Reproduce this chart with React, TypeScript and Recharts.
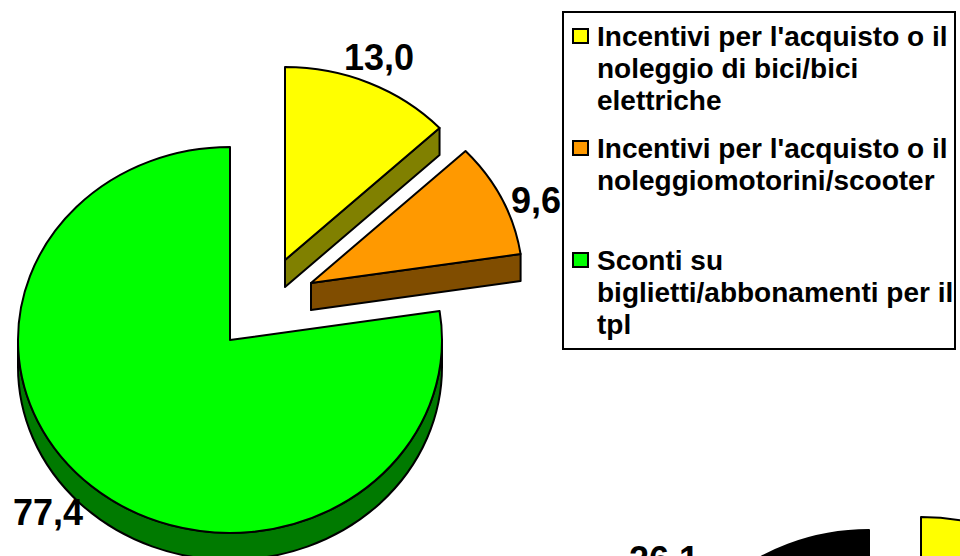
import { Legend, Pie, PieChart } from "recharts";

const sliceNames = ["Bici", "Scooter", "Tpl"];
const sliceValues = [13.0, 9.6, 77.4];
const sliceColors = ["#ffff00", "#ff9900", "#00ff00"];
const wallColors = ["#808000", "#804d00", "#007a00"];

const nextSliceNames = ["Altro", "Nero"];
const nextSliceValues = [73.9, 26.1];
const nextSliceColors = ["#ffff00", "#000000"];
const nextWallColors = ["#808000", "#000000"];

const legendItems = [
  ["Incentivi per l'acquisto o il", "noleggio di bici/bici", "elettriche"],
  ["Incentivi per l'acquisto o il", "noleggiomotorini/scooter"],
  ["Sconti su", "biglietti/abbonamenti per il", "tpl"],
];

// how far each slice is pulled out of the pie
const explode = [
  [55, -80],
  [81, -57],
  [0, 0],
];
const nextExplode = [
  [52, -13],
  [0, 0],
];
const labelSpots = [
  [379, 70],
  [536, 213],
  [48, 525],
];
const nextLabelSpots = [
  [-100, -100],
  [664, 572],
];

const TILT = 0.91;
const DEPTH = 27;
const RADIUS = 212;

const firstPie = sliceNames.map((name, i) => ({
  name,
  value: sliceValues[i],
  fill: sliceColors[i],
  wall: wallColors[i],
  dx: explode[i][0],
  dy: explode[i][1],
}));

const secondPie = nextSliceNames.map((name, i) => ({
  name,
  value: nextSliceValues[i],
  fill: nextSliceColors[i],
  wall: nextWallColors[i],
  dx: nextExplode[i][0],
  dy: nextExplode[i][1],
}));

// Recharts pies are round, so the slice is drawn flattened with a wall under it
function TiltedSlice(props: any) {
  const row = props.payload ?? props;
  const ox = props.cx + (row.dx ?? 0);
  const oy = props.cy + (row.dy ?? 0);
  const rx = props.outerRadius;
  const ry = rx * TILT;
  const at = (deg: number, drop = 0) => {
    const rad = (deg * Math.PI) / 180;
    return `${ox + rx * Math.cos(rad)} ${oy - ry * Math.sin(rad) + drop}`;
  };
  const start = props.startAngle;
  const end = props.endAngle;
  const large = Math.abs(end - start) > 180 ? 1 : 0;
  const top = `M${ox} ${oy} L${at(start)} A${rx} ${ry} 0 ${large} 1 ${at(end)} Z`;

  const walls: string[] = [];
  // round wall, only the part of the rim that faces the viewer
  const rimStart = Math.min(start, 0);
  const rimEnd = Math.max(end, -180);
  if (rimStart > rimEnd) {
    walls.push(
      `M${at(rimStart)} A${rx} ${ry} 0 0 1 ${at(rimEnd)} L${at(rimEnd, DEPTH)} A${rx} ${ry} 0 0 0 ${at(rimStart, DEPTH)} Z`,
    );
  }
  // flat wall on the cut side
  const endRad = (end * Math.PI) / 180;
  if (Math.cos(endRad) > 0.001 && end > -90) {
    walls.push(
      `M${ox} ${oy} L${at(end)} L${at(end, DEPTH)} L${ox} ${oy + DEPTH} Z`,
    );
  }

  return (
    <g>
      {walls.map((d) => (
        <path key={d} d={d} fill={row.wall} stroke="#000" strokeWidth={2} strokeLinejoin="round" />
      ))}
      <path d={top} fill={row.fill} stroke="#000" strokeWidth={2} strokeLinejoin="round" />
    </g>
  );
}

function valueLabel(spots: number[][]) {
  return (props: any) => {
    const spot = spots[props.index];
    if (spot[0] < 0) return null;
    return (
      <text
        x={spot[0]}
        y={spot[1]}
        textAnchor="middle"
        fontFamily="Liberation Sans"
        fontWeight={700}
        fontSize={36}
        fill="#000"
      >
        {Number(props.value).toFixed(1).replace(".", ",")}
      </text>
    );
  };
}

function LegendBox() {
  return (
    <div
      style={{
        position: "relative",
        boxSizing: "border-box",
        width: 394,
        height: 339,
        border: "2px solid #000",
        fontFamily: "Liberation Sans",
        fontWeight: 700,
        fontSize: 28,
        lineHeight: "32px",
        color: "#000",
      }}
    >
      {legendItems.map((lines, i) => (
        <div key={i} style={{ position: "absolute", left: 8, top: 8 + i * 112 }}>
          <span
            style={{
              position: "absolute",
              left: 0,
              top: 7,
              width: 17,
              height: 16,
              boxSizing: "border-box",
              border: "2px solid #000",
              background: sliceColors[i],
            }}
          />
          {lines.map((line) => (
            <div key={line} style={{ marginLeft: 25, whiteSpace: "nowrap" }}>
              {line}
            </div>
          ))}
        </div>
      ))}
    </div>
  );
}

export default function App() {
  return (
    <div style={{ position: "absolute", left: 0, top: 0, width: 960, height: 556, overflow: "hidden", background: "#fff" }}>
      <PieChart width={960} height={556} margin={{ top: 0, right: 0, bottom: 0, left: 0 }}>
        <Pie
          data={secondPie}
          dataKey="value"
          cx={869}
          cy={723}
          outerRadius={RADIUS}
          startAngle={90}
          endAngle={-270}
          paddingAngle={0}
          stroke="#000"
          shape={TiltedSlice}
          label={valueLabel(nextLabelSpots)}
          labelLine={false}
          isAnimationActive={false}
        />
        <Pie
          data={firstPie}
          dataKey="value"
          cx={230}
          cy={340}
          outerRadius={RADIUS}
          startAngle={90}
          endAngle={-270}
          paddingAngle={0}
          stroke="#000"
          shape={TiltedSlice}
          label={valueLabel(labelSpots)}
          labelLine={false}
          isAnimationActive={false}
        />
        <Legend
          content={() => <LegendBox />}
          wrapperStyle={{ left: 562, top: 11, width: 394, height: 339, bottom: "auto", right: "auto" }}
        />
      </PieChart>
    </div>
  );
}
